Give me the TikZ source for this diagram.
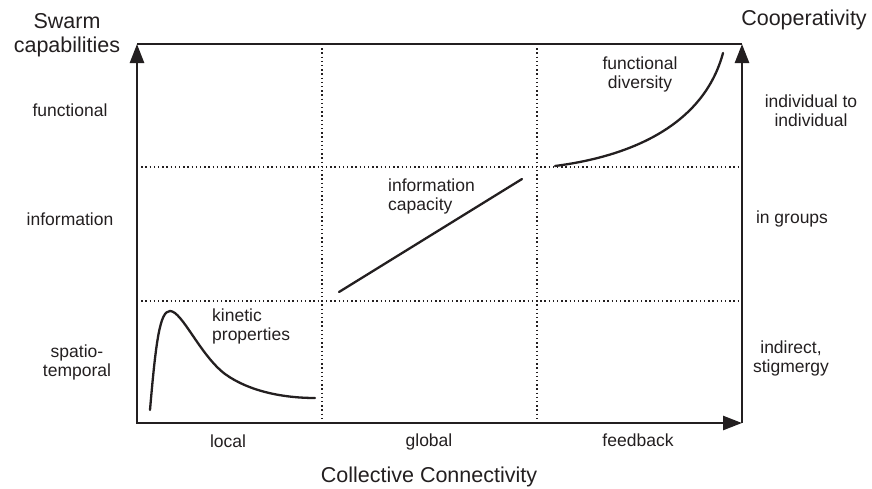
\documentclass[tikz,border=0pt]{standalone}
\usepackage{fontspec}
\setmainfont{Liberation Sans}
\usetikzlibrary{arrows.meta, positioning}
\definecolor{ink}{HTML}{231F20}

\begin{document}
\begin{tikzpicture}[x=1pt, y=-1pt,
    >={Triangle[width=14pt, length=19pt]},
    axis/.style={->, line width=2.6pt, draw=ink},
    edge/.style={line width=2.6pt, draw=ink},
    grid/.style={line width=1.1pt, draw=ink, dash pattern=on 1.4pt off 2.8pt},
    curve/.style={line width=2.3pt, draw=ink, line cap=round},
    lbl/.style={font=\fontsize{17.5}{19}\selectfont, text=ink, inner sep=0pt, align=center},
    ttl/.style={font=\fontsize{21.5}{24}\selectfont, text=ink, inner sep=0pt, align=center}]

  \useasboundingbox (0,0) rectangle (872,488);

  % frame corners
  \coordinate (bl) at (137,423);
  \coordinate (tl) at (137,44);
  \coordinate (br) at (742,423);
  \coordinate (tr) at (742,44);

  % dotted cell borders
  \draw[grid] (322,44) -- (322,423);
  \draw[grid] (537,44) -- (537,423);
  \draw[grid] (137,167) -- (742,167);
  \draw[grid] (137,301) -- (742,301);

  % axes
  \draw[edge] (tl) -- (tr);
  \draw[axis, <->] (tl) -- (bl) -- (br);
  \draw[axis] (br) -- (tr);

  % curves
  \draw[curve] (150,410) .. controls (156,340) and (160,311) .. (170,311)
                         .. controls (182,311) and (200,355) .. (225,374)
                         .. controls (250,392) and (285,398) .. (315,398);
  \draw[curve] (339,292) -- (522,179);
  \draw[curve] (555,166) .. controls (640,155) and (705,120) .. (723,53);

  % axis titles
  \node[ttl] (swarm) at (67,35.4) {Swarm\\capabilities};
  \node[ttl, anchor=base] (coop) at (804,25) {Cooperativity};
  \node[ttl, anchor=base] (conn) at (429,482) {Collective Connectivity};

  % left labels
  \node[lbl, anchor=base] (func) at (70,116) {functional};
  \node[lbl, anchor=base] (info) at (70,225) {information};
  \node[lbl] (spatio) at (77,362) {spatio-\\temporal};

  % right labels
  \node[lbl] (indiv) at (811,111) {individual to\\individual};
  \node[lbl, anchor=base] (groups) at (792,223) {in groups};
  \node[lbl] (stig) at (791,358) {indirect,\\stigmergy};

  % bottom labels
  \node[lbl, anchor=base] (local) at (228,447) {local};
  \node[lbl, anchor=base] (global) at (429,446) {global};
  \node[lbl, anchor=base] (feed) at (638,446) {feedback};

  % cell labels
  \node[lbl, align=left, anchor=west] (kin) at (212,326.5) {kinetic\\properties};
  \node[lbl, align=left, anchor=west] (cap) at (388,196.5) {information\\capacity};
  \node[lbl] (div) at (640,74.5) {functional\\diversity};
\end{tikzpicture}
\end{document}
